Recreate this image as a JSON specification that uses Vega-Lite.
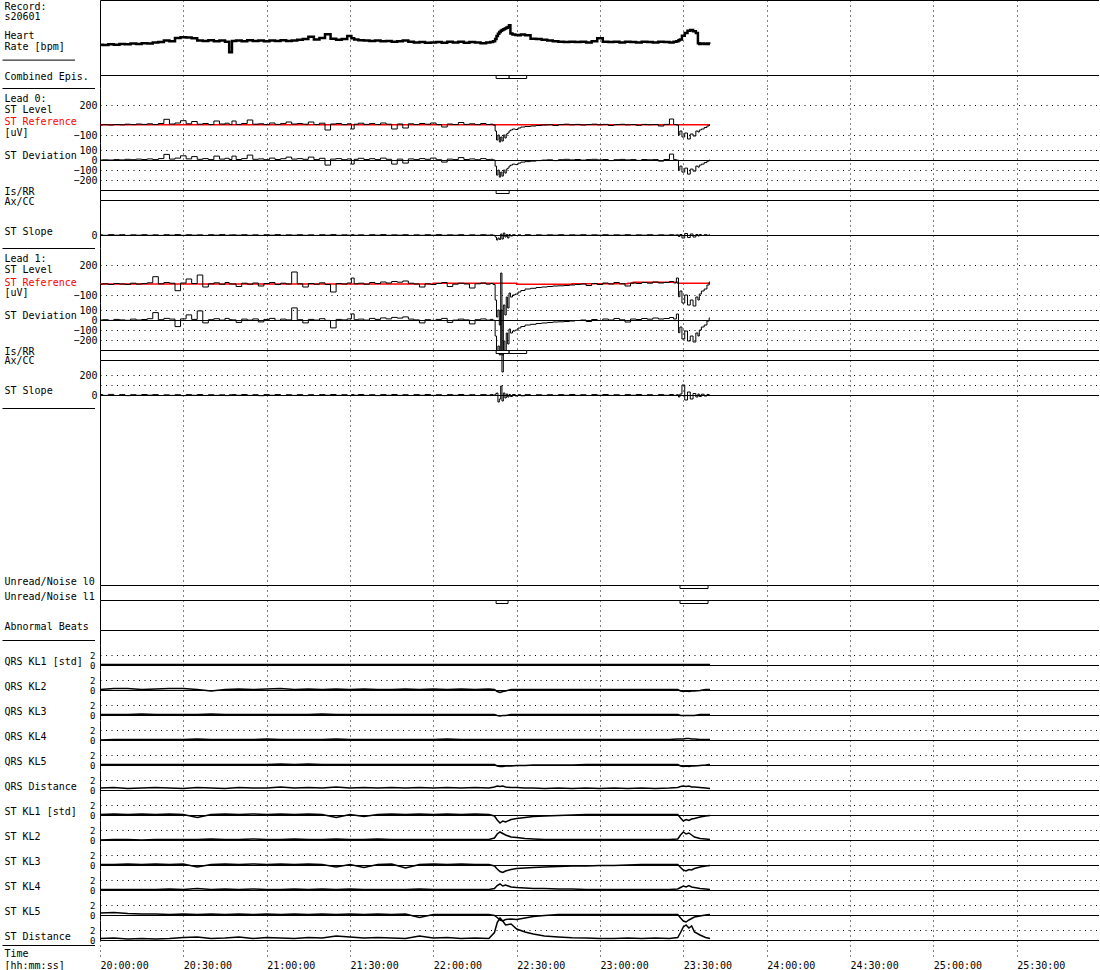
{
"$schema":"https://vega.github.io/schema/vega-lite/v6.json",
"background":"white",
"padding":{"left":2,"top":0,"right":0,"bottom":0},
"spacing":0,
"bounds":"flush",
"datasets":{
"m":[
{"t":0,"hr":81,"a":0,"b":0,"c":2,"d":8,"e":0,"f":5},
{"t":2,"hr":80,"a":3,"b":2,"c":-3,"d":12,"e":3,"f":-4},
{"t":4,"hr":82,"a":0,"b":0,"c":4,"d":5,"e":-4,"f":6},
{"t":6,"hr":81,"a":5,"b":4,"c":-2,"d":15,"e":6,"f":-5},
{"t":8,"hr":83,"a":2,"b":1,"c":3,"d":10,"e":1,"f":4},
{"t":10,"hr":82,"a":8,"b":7,"c":-4,"d":6,"e":-3,"f":-6},
{"t":12,"hr":84,"a":4,"b":3,"c":2,"d":18,"e":9,"f":3},
{"t":14,"hr":83,"a":10,"b":9,"c":-2,"d":9,"e":0,"f":-3},
{"t":16,"hr":85,"a":6,"b":5,"c":3,"d":14,"e":5,"f":5},
{"t":18,"hr":84,"a":12,"b":11,"c":-3,"d":22,"e":13,"f":-2},
{"t":20,"hr":87,"a":5,"b":4,"c":2,"d":83,"e":74,"f":4},
{"t":22,"hr":88,"a":15,"b":14,"c":-4,"d":12,"e":3,"f":-5},
{"t":24,"hr":92,"a":57,"b":56,"c":3,"d":25,"e":16,"f":2},
{"t":26,"hr":90,"a":10,"b":9,"c":-2,"d":18,"e":9,"f":-4},
{"t":28,"hr":99,"a":20,"b":19,"c":4,"d":-57,"e":-66,"f":3},
{"t":30,"hr":101,"a":43,"b":42,"c":-3,"d":20,"e":11,"f":-6},
{"t":32,"hr":100,"a":12,"b":11,"c":3,"d":60,"e":51,"f":4},
{"t":34,"hr":98,"a":35,"b":34,"c":-2,"d":15,"e":6,"f":-3},
{"t":36,"hr":92,"a":8,"b":7,"c":2,"d":100,"e":91,"f":5},
{"t":38,"hr":91,"a":15,"b":14,"c":-4,"d":-20,"e":-29,"f":-5},
{"t":40,"hr":93,"a":5,"b":4,"c":3,"d":12,"e":3,"f":3},
{"t":42,"hr":90,"a":40,"b":39,"c":-2,"d":22,"e":13,"f":-4},
{"t":44,"hr":92,"a":10,"b":9,"c":4,"d":8,"e":-1,"f":2},
{"t":46,"hr":89,"a":18,"b":17,"c":-3,"d":25,"e":16,"f":-6},
{"t":47,"hr":61,"a":6,"b":5,"c":1,"d":12,"e":3,"f":2},
{"t":48,"hr":91,"a":40,"b":39,"c":2,"d":10,"e":1,"f":4},
{"t":50,"hr":92,"a":6,"b":5,"c":-2,"d":-15,"e":-24,"f":-3},
{"t":52,"hr":90,"a":15,"b":14,"c":3,"d":18,"e":9,"f":5},
{"t":54,"hr":93,"a":50,"b":49,"c":-3,"d":8,"e":-1,"f":-4},
{"t":56,"hr":91,"a":8,"b":7,"c":2,"d":20,"e":11,"f":3},
{"t":58,"hr":92,"a":12,"b":11,"c":-4,"d":-10,"e":-19,"f":-7},
{"t":60,"hr":90,"a":4,"b":3,"c":3,"d":15,"e":6,"f":4},
{"t":62,"hr":92,"a":20,"b":19,"c":-2,"d":25,"e":16,"f":-3},
{"t":64,"hr":91,"a":6,"b":5,"c":4,"d":5,"e":-4,"f":5},
{"t":66,"hr":93,"a":14,"b":13,"c":-3,"d":18,"e":9,"f":-5},
{"t":68,"hr":91,"a":30,"b":29,"c":2,"d":10,"e":1,"f":3},
{"t":70,"hr":92,"a":10,"b":9,"c":-2,"d":130,"e":121,"f":-4},
{"t":72,"hr":94,"a":15,"b":14,"c":3,"d":12,"e":3,"f":4},
{"t":74,"hr":96,"a":8,"b":7,"c":-3,"d":-20,"e":-29,"f":-6},
{"t":76,"hr":102,"a":30,"b":29,"c":2,"d":15,"e":6,"f":3},
{"t":78,"hr":95,"a":5,"b":4,"c":-4,"d":8,"e":-1,"f":-5},
{"t":80,"hr":99,"a":18,"b":17,"c":3,"d":22,"e":13,"f":4},
{"t":82,"hr":109,"a":-50,"b":-51,"c":-2,"d":5,"e":-4,"f":-3},
{"t":84,"hr":97,"a":10,"b":9,"c":4,"d":-70,"e":-79,"f":5},
{"t":86,"hr":94,"a":15,"b":14,"c":-3,"d":15,"e":6,"f":-4},
{"t":88,"hr":96,"a":4,"b":3,"c":2,"d":10,"e":1,"f":3},
{"t":90,"hr":104,"a":12,"b":11,"c":-2,"d":20,"e":11,"f":-5},
{"t":91,"hr":98,"a":-40,"b":-41,"c":3,"d":70,"e":61,"f":4},
{"t":92,"hr":95,"a":8,"b":7,"c":-3,"d":12,"e":3,"f":-3},
{"t":94,"hr":93,"a":18,"b":17,"c":2,"d":18,"e":9,"f":5},
{"t":96,"hr":92,"a":6,"b":5,"c":-4,"d":8,"e":-1,"f":-4},
{"t":98,"hr":91,"a":14,"b":13,"c":3,"d":25,"e":16,"f":3},
{"t":100,"hr":92,"a":5,"b":4,"c":-2,"d":15,"e":6,"f":-6},
{"t":102,"hr":90,"a":20,"b":19,"c":4,"d":30,"e":21,"f":4},
{"t":104,"hr":91,"a":8,"b":7,"c":-3,"d":20,"e":11,"f":-3},
{"t":106,"hr":89,"a":-40,"b":-41,"c":2,"d":35,"e":26,"f":5},
{"t":108,"hr":90,"a":10,"b":9,"c":-2,"d":28,"e":19,"f":-4},
{"t":110,"hr":92,"a":-30,"b":-31,"c":3,"d":40,"e":31,"f":3},
{"t":112,"hr":89,"a":12,"b":11,"c":-4,"d":18,"e":9,"f":-5},
{"t":114,"hr":87,"a":5,"b":4,"c":2,"d":10,"e":1,"f":4},
{"t":116,"hr":88,"a":15,"b":14,"c":-3,"d":-20,"e":-29,"f":-3},
{"t":118,"hr":86,"a":8,"b":7,"c":3,"d":12,"e":3,"f":5},
{"t":120,"hr":87,"a":20,"b":19,"c":-2,"d":5,"e":-4,"f":-4},
{"t":122,"hr":88,"a":4,"b":3,"c":4,"d":15,"e":6,"f":3},
{"t":124,"hr":86,"a":-20,"b":-21,"c":-3,"d":25,"e":16,"f":-6},
{"t":126,"hr":89,"a":10,"b":9,"c":2,"d":-15,"e":-24,"f":4},
{"t":128,"hr":87,"a":5,"b":4,"c":-2,"d":8,"e":-1,"f":-3},
{"t":130,"hr":89,"a":25,"b":24,"c":3,"d":18,"e":9,"f":5},
{"t":132,"hr":86,"a":6,"b":5,"c":-4,"d":10,"e":1,"f":-4},
{"t":134,"hr":88,"a":12,"b":11,"c":2,"d":-30,"e":-39,"f":3},
{"t":136,"hr":87,"a":4,"b":3,"c":-3,"d":12,"e":3,"f":-5},
{"t":138,"hr":85,"a":15,"b":14,"c":3,"d":20,"e":11,"f":4},
{"t":140,"hr":87,"a":5,"b":4,"c":-2,"d":8,"e":-1,"f":-3},
{"t":141,"hr":88,"a":8,"b":7,"c":2,"d":15,"e":6,"f":4},
{"t":142,"hr":90,"a":0,"b":0,"c":-3,"d":5,"e":-4,"f":-2},
{"t":142.5,"hr":96,"a":-60,"b":-61,"c":-20,"d":-150,"e":-160,"f":10},
{"t":143,"hr":104,"a":-150,"b":-151,"c":-50,"d":-320,"e":-330,"f":20},
{"t":143.5,"hr":110,"a":-100,"b":-101,"c":-30,"d":-250,"e":-260,"f":-70},
{"t":144,"hr":115,"a":-170,"b":-171,"c":-45,"d":-400,"e":-350,"f":-40},
{"t":144.5,"hr":118,"a":-120,"b":-121,"c":10,"d":120,"e":100,"f":90},
{"t":144.9,"hr":120,"a":-160,"b":-161,"c":-40,"d":-870,"e":-350,"f":-60},
{"t":145.5,"hr":122,"a":-100,"b":-101,"c":20,"d":-200,"e":-210,"f":20},
{"t":146,"hr":124,"a":-130,"b":-131,"c":-20,"d":-300,"e":-310,"f":-30},
{"t":146.5,"hr":126,"a":-90,"b":-91,"c":5,"d":-120,"e":-130,"f":10},
{"t":147,"hr":128,"a":-80,"b":-81,"c":-30,"d":-230,"e":-240,"f":-20},
{"t":147.5,"hr":133,"a":-60,"b":-61,"c":5,"d":-80,"e":-90,"f":5},
{"t":148,"hr":111,"a":-50,"b":-51,"c":-10,"d":-120,"e":-130,"f":-15},
{"t":149,"hr":108,"a":-40,"b":-41,"c":3,"d":-100,"e":-110,"f":5},
{"t":150,"hr":107,"a":-45,"b":-46,"c":-5,"d":-90,"e":-100,"f":-10},
{"t":151,"hr":106,"a":-30,"b":-31,"c":2,"d":-70,"e":-80,"f":3},
{"t":152,"hr":108,"a":-20,"b":-21,"c":-6,"d":-55,"e":-65,"f":-8},
{"t":154,"hr":106,"a":-15,"b":-16,"c":3,"d":-40,"e":-50,"f":4},
{"t":156,"hr":97,"a":-10,"b":-11,"c":-4,"d":-33,"e":-43,"f":-5},
{"t":158,"hr":96,"a":-5,"b":-6,"c":2,"d":-25,"e":-35,"f":3},
{"t":160,"hr":94,"a":0,"b":-1,"c":-3,"d":-20,"e":-30,"f":-4},
{"t":162,"hr":92,"a":3,"b":2,"c":2,"d":-15,"e":-25,"f":3},
{"t":164,"hr":90,"a":-5,"b":-6,"c":-2,"d":-10,"e":-20,"f":-4},
{"t":166,"hr":89,"a":4,"b":3,"c":3,"d":-8,"e":-18,"f":4},
{"t":168,"hr":88,"a":8,"b":7,"c":-3,"d":-5,"e":-15,"f":-3},
{"t":170,"hr":89,"a":2,"b":1,"c":2,"d":0,"e":-10,"f":5},
{"t":172,"hr":88,"a":6,"b":5,"c":-2,"d":5,"e":-5,"f":-4},
{"t":174,"hr":89,"a":0,"b":-1,"c":3,"d":10,"e":0,"f":3},
{"t":176,"hr":87,"a":5,"b":4,"c":-3,"d":-5,"e":-15,"f":-5},
{"t":178,"hr":90,"a":8,"b":7,"c":2,"d":15,"e":5,"f":4},
{"t":180,"hr":98,"a":2,"b":1,"c":-2,"d":5,"e":-5,"f":-3},
{"t":182,"hr":89,"a":6,"b":5,"c":3,"d":20,"e":10,"f":5},
{"t":184,"hr":88,"a":-5,"b":-6,"c":-3,"d":10,"e":0,"f":-4},
{"t":186,"hr":89,"a":4,"b":3,"c":2,"d":25,"e":15,"f":3},
{"t":188,"hr":87,"a":7,"b":6,"c":-2,"d":12,"e":2,"f":-5},
{"t":190,"hr":89,"a":2,"b":1,"c":3,"d":-10,"e":-20,"f":4},
{"t":192,"hr":88,"a":5,"b":4,"c":-3,"d":20,"e":10,"f":-3},
{"t":194,"hr":87,"a":-3,"b":-4,"c":2,"d":15,"e":5,"f":5},
{"t":196,"hr":89,"a":6,"b":5,"c":-2,"d":25,"e":15,"f":-4},
{"t":198,"hr":88,"a":3,"b":2,"c":3,"d":18,"e":8,"f":3},
{"t":200,"hr":87,"a":5,"b":4,"c":-3,"d":30,"e":20,"f":-5},
{"t":202,"hr":89,"a":-10,"b":-11,"c":2,"d":20,"e":10,"f":4},
{"t":204,"hr":88,"a":6,"b":5,"c":-2,"d":25,"e":15,"f":-3},
{"t":206,"hr":87,"a":60,"b":59,"c":3,"d":35,"e":25,"f":5},
{"t":207,"hr":89,"a":5,"b":4,"c":-2,"d":20,"e":10,"f":-4},
{"t":208,"hr":90,"a":0,"b":-1,"c":2,"d":70,"e":60,"f":3},
{"t":208.5,"hr":93,"a":-100,"b":-101,"c":-15,"d":-117,"e":-127,"f":-20},
{"t":209,"hr":95,"a":-60,"b":-61,"c":5,"d":-60,"e":-70,"f":10},
{"t":210,"hr":105,"a":-120,"b":-121,"c":-30,"d":-180,"e":-190,"f":100},
{"t":211,"hr":112,"a":-80,"b":-81,"c":15,"d":-100,"e":-110,"f":-50},
{"t":212,"hr":118,"a":-140,"b":-141,"c":-25,"d":-200,"e":-210,"f":30},
{"t":213,"hr":120,"a":-90,"b":-91,"c":10,"d":-150,"e":-160,"f":-40},
{"t":214,"hr":117,"a":-110,"b":-111,"c":-20,"d":-210,"e":-220,"f":15},
{"t":215,"hr":112,"a":-60,"b":-61,"c":5,"d":-120,"e":-130,"f":-20},
{"t":215.5,"hr":85,"a":-70,"b":-71,"c":-10,"d":-150,"e":-160,"f":10},
{"t":216,"hr":83,"a":-50,"b":-51,"c":5,"d":-90,"e":-100,"f":-15},
{"t":217,"hr":84,"a":-40,"b":-41,"c":-5,"d":-60,"e":-70,"f":8},
{"t":218,"hr":83,"a":-25,"b":-26,"c":3,"d":-40,"e":-50,"f":-10},
{"t":219,"hr":84,"a":-10,"b":-11,"c":-3,"d":0,"e":-10,"f":5},
{"t":219.6,"hr":83,"a":0,"b":-1,"c":2,"d":30,"e":20,"f":-3}
],
"r":[
{"lead":0,"t":0,"v":2},{"lead":0,"t":219.6,"v":2},
{"lead":1,"t":0,"v":10},{"lead":1,"t":120,"v":17},{"lead":1,"t":150,"v":7},{"lead":1,"t":170,"v":12},{"lead":1,"t":190,"v":17},{"lead":1,"t":192,"v":27},{"lead":1,"t":208,"v":17},{"lead":1,"t":219.6,"v":17}
],
"ep":[
{"p":"comb","s":142.6,"e":147.3},{"p":"comb","s":147.3,"e":153.6},
{"p":"is0","s":142.6,"e":147.3},
{"p":"is1","s":142.6,"e":147.3},{"p":"is1","s":147.3,"e":153.6},
{"p":"un0","s":208.8,"e":218.9},
{"p":"un1","s":142.6,"e":146.9},{"p":"un1","s":208.8,"e":218.9}
],
"k":[
{"t":0,"q1":0.1,"q2":0.1,"q3":0.1,"q4":0,"q5":0.1,"qd":0.4,"s1":0.1,"s2":0,"s3":0.1,"s4":0.1,"s5":0.4,"sd":0.3},
{"t":5,"q1":0.1,"q2":0.3,"q3":0.1,"q4":0.1,"q5":0.1,"qd":0.5,"s1":0.2,"s2":0.1,"s3":0.1,"s4":0.1,"s5":0.5,"sd":0.4},
{"t":10,"q1":0.1,"q2":0.3,"q3":0.1,"q4":0.1,"q5":0.1,"qd":0.3,"s1":0.1,"s2":0.1,"s3":0.2,"s4":0.1,"s5":0.3,"sd":0.2},
{"t":15,"q1":0.1,"q2":0.1,"q3":0.2,"q4":0.1,"q5":0.1,"qd":0.4,"s1":0.2,"s2":0,"s3":0.1,"s4":0.1,"s5":0.2,"sd":0.3},
{"t":20,"q1":0.1,"q2":0.2,"q3":0.1,"q4":0.1,"q5":0.1,"qd":0.5,"s1":0.1,"s2":0.1,"s3":0.2,"s4":0.1,"s5":0.2,"sd":0.2},
{"t":25,"q1":0.1,"q2":0.3,"q3":0.1,"q4":0.1,"q5":0.1,"qd":0.4,"s1":0.2,"s2":0.1,"s3":0.1,"s4":0.2,"s5":0.1,"sd":0.3},
{"t":30,"q1":0.1,"q2":0.3,"q3":0.1,"q4":0.1,"q5":0.1,"qd":0.3,"s1":0.1,"s2":0.1,"s3":0.2,"s4":0.1,"s5":0.2,"sd":0.5},
{"t":35,"q1":0.1,"q2":0.1,"q3":0.1,"q4":0.2,"q5":0.1,"qd":0.5,"s1":-0.5,"s2":0.1,"s3":-0.4,"s4":0.3,"s5":0.1,"sd":0.6},
{"t":40,"q1":0.1,"q2":-0.2,"q3":0.2,"q4":0.1,"q5":0.1,"qd":0.4,"s1":0.1,"s2":0.2,"s3":0.1,"s4":0.1,"s5":0.2,"sd":0.3},
{"t":45,"q1":0.1,"q2":0.1,"q3":0.1,"q4":0.1,"q5":0.1,"qd":0.3,"s1":0.2,"s2":0.1,"s3":0.2,"s4":0.2,"s5":0.1,"sd":0.4},
{"t":50,"q1":0.1,"q2":0.2,"q3":0.1,"q4":0.1,"q5":0.1,"qd":0.5,"s1":0.1,"s2":0.1,"s3":0.1,"s4":0.1,"s5":0.2,"sd":0.6},
{"t":55,"q1":0.1,"q2":0.1,"q3":0.1,"q4":0.1,"q5":0.1,"qd":0.4,"s1":0.2,"s2":0.2,"s3":0.2,"s4":0.2,"s5":0.1,"sd":0.3},
{"t":60,"q1":0.1,"q2":0.2,"q3":0.1,"q4":0.2,"q5":0.1,"qd":0.4,"s1":0.1,"s2":0.1,"s3":0.1,"s4":0.1,"s5":0.2,"sd":0.5},
{"t":65,"q1":0.1,"q2":0.3,"q3":0.1,"q4":0.1,"q5":0.2,"qd":0.6,"s1":0.2,"s2":0.1,"s3":0.2,"s4":0.1,"s5":0.1,"sd":0.4},
{"t":70,"q1":0.1,"q2":0.1,"q3":0.1,"q4":0.1,"q5":0.1,"qd":0.4,"s1":0.1,"s2":0.2,"s3":0.1,"s4":0.2,"s5":0.2,"sd":0.3},
{"t":75,"q1":0.1,"q2":0.2,"q3":0.1,"q4":0.1,"q5":0.2,"qd":0.5,"s1":0.2,"s2":0.1,"s3":0.2,"s4":0.1,"s5":0.1,"sd":0.5},
{"t":80,"q1":0.1,"q2":0.1,"q3":0.2,"q4":0.1,"q5":0.1,"qd":0.4,"s1":0.1,"s2":0.1,"s3":0.1,"s4":0.2,"s5":0.2,"sd":0.4},
{"t":85,"q1":0.1,"q2":0.2,"q3":0.1,"q4":0.2,"q5":0.1,"qd":0.6,"s1":-0.5,"s2":0.2,"s3":-0.4,"s4":0.1,"s5":0.1,"sd":0.8},
{"t":90,"q1":0.1,"q2":0.1,"q3":0.1,"q4":0.1,"q5":0.1,"qd":0.4,"s1":0.1,"s2":0.1,"s3":0.1,"s4":0.2,"s5":0.2,"sd":0.6},
{"t":95,"q1":0.1,"q2":0.2,"q3":0.1,"q4":0.1,"q5":0.1,"qd":0.5,"s1":-0.3,"s2":0.1,"s3":-0.5,"s4":0.1,"s5":0.1,"sd":0.4},
{"t":100,"q1":0.1,"q2":0.1,"q3":0.1,"q4":0.1,"q5":0.1,"qd":0.4,"s1":0.1,"s2":0.2,"s3":0.1,"s4":0.1,"s5":0.2,"sd":0.5},
{"t":105,"q1":0.1,"q2":0.1,"q3":0.1,"q4":0.1,"q5":0.1,"qd":0.5,"s1":0.2,"s2":0.1,"s3":0.2,"s4":0.1,"s5":0.1,"sd":0.4},
{"t":110,"q1":0.1,"q2":0.2,"q3":0.1,"q4":0.1,"q5":0.1,"qd":0.4,"s1":0.1,"s2":0.1,"s3":-0.6,"s4":0.1,"s5":0.2,"sd":0.3},
{"t":115,"q1":0.1,"q2":0.1,"q3":0.1,"q4":0.1,"q5":0.1,"qd":0.5,"s1":0.2,"s2":0.1,"s3":0.1,"s4":0.2,"s5":-0.5,"sd":0.8},
{"t":120,"q1":0.1,"q2":0.2,"q3":0.1,"q4":0.1,"q5":0.1,"qd":0.4,"s1":0.1,"s2":0.1,"s3":0.2,"s4":0.1,"s5":0.1,"sd":0.4},
{"t":125,"q1":0.1,"q2":0.1,"q3":0.1,"q4":0.2,"q5":0.1,"qd":0.5,"s1":0.2,"s2":0.1,"s3":0.1,"s4":0.1,"s5":0.1,"sd":0.5},
{"t":130,"q1":0.1,"q2":0.2,"q3":0.1,"q4":0.1,"q5":0.1,"qd":0.4,"s1":0.1,"s2":0.1,"s3":0.2,"s4":0.1,"s5":0.1,"sd":0.3},
{"t":135,"q1":0.1,"q2":0.1,"q3":0.1,"q4":0.1,"q5":0.1,"qd":0.5,"s1":0.2,"s2":0.1,"s3":0.1,"s4":0.1,"s5":0.1,"sd":0.4},
{"t":140,"q1":0.1,"q2":0.2,"q3":0.1,"q4":0.1,"q5":0.1,"qd":0.4,"s1":0.1,"s2":0.1,"s3":0.1,"s4":0.1,"s5":0.1,"sd":0.3},
{"t":142,"q1":0.1,"q2":0.1,"q3":0.1,"q4":0.1,"q5":0.1,"qd":0.6,"s1":-0.2,"s2":0.4,"s3":-0.2,"s4":0.3,"s5":-0.1,"sd":1.5},
{"t":143,"q1":0.1,"q2":-0.3,"q3":-0.1,"q4":0.1,"q5":-0.2,"qd":0.8,"s1":-1.0,"s2":1.2,"s3":-0.8,"s4":0.9,"s5":-0.5,"sd":3.5},
{"t":144,"q1":0.1,"q2":-0.5,"q3":-0.2,"q4":0.1,"q5":-0.3,"qd":0.7,"s1":-1.6,"s2":1.6,"s3":-1.3,"s4":1.2,"s5":-1.0,"sd":4.4},
{"t":145,"q1":0.1,"q2":-0.3,"q3":-0.1,"q4":0.1,"q5":-0.3,"qd":0.8,"s1":-1.2,"s2":1.3,"s3":-1.5,"s4":0.8,"s5":-1.2,"sd":3.8},
{"t":146,"q1":0.1,"q2":-0.2,"q3":-0.1,"q4":0.1,"q5":-0.2,"qd":0.6,"s1":-1.4,"s2":1.0,"s3":-1.2,"s4":1.0,"s5":-0.9,"sd":3.0},
{"t":148,"q1":0.1,"q2":0.1,"q3":0.1,"q4":0.1,"q5":-0.2,"qd":0.5,"s1":-0.9,"s2":0.6,"s3":-0.9,"s4":0.6,"s5":-0.8,"sd":3.2},
{"t":150,"q1":0.1,"q2":0.1,"q3":0.1,"q4":0.1,"q5":-0.1,"qd":0.5,"s1":-0.7,"s2":0.5,"s3":-0.7,"s4":0.5,"s5":-0.9,"sd":2.2},
{"t":153,"q1":0.1,"q2":0.1,"q3":0.1,"q4":0.1,"q5":-0.1,"qd":0.4,"s1":-0.5,"s2":0.3,"s3":-0.6,"s4":0.4,"s5":-0.6,"sd":1.6},
{"t":156,"q1":0.1,"q2":0.1,"q3":0.1,"q4":0.1,"q5":0,"qd":0.4,"s1":-0.3,"s2":0.2,"s3":-0.5,"s4":0.3,"s5":-0.3,"sd":1.2},
{"t":160,"q1":0.1,"q2":0.1,"q3":0.1,"q4":0.1,"q5":0,"qd":0.3,"s1":-0.2,"s2":0.1,"s3":-0.4,"s4":0.3,"s5":-0.1,"sd":0.8},
{"t":165,"q1":0.1,"q2":0.1,"q3":0.1,"q4":0.1,"q5":0,"qd":0.4,"s1":-0.1,"s2":0.1,"s3":-0.3,"s4":0.2,"s5":0.1,"sd":0.6},
{"t":170,"q1":0.1,"q2":0.1,"q3":0.1,"q4":0.1,"q5":0,"qd":0.3,"s1":0,"s2":0.1,"s3":-0.2,"s4":0.2,"s5":0.1,"sd":0.45},
{"t":175,"q1":0.1,"q2":0.1,"q3":0.1,"q4":0.1,"q5":0.1,"qd":0.4,"s1":0.1,"s2":0.1,"s3":-0.2,"s4":0.1,"s5":0.1,"sd":0.4},
{"t":180,"q1":0.1,"q2":0.1,"q3":0.1,"q4":0.1,"q5":0.1,"qd":0.3,"s1":0.1,"s2":0.1,"s3":-0.1,"s4":0.1,"s5":0.1,"sd":0.3},
{"t":185,"q1":0.1,"q2":0.1,"q3":0.1,"q4":0.1,"q5":0.1,"qd":0.4,"s1":0.1,"s2":0.1,"s3":-0.1,"s4":0.1,"s5":0.1,"sd":0.3},
{"t":190,"q1":0.1,"q2":0.1,"q3":0.1,"q4":0.1,"q5":0.1,"qd":0.3,"s1":0.1,"s2":0.1,"s3":0,"s4":0.1,"s5":0.1,"sd":0.4},
{"t":195,"q1":0.1,"q2":0.1,"q3":0.1,"q4":0.1,"q5":0.1,"qd":0.4,"s1":0.1,"s2":0.1,"s3":0.1,"s4":0.1,"s5":0.1,"sd":0.3},
{"t":200,"q1":0.1,"q2":0.1,"q3":0.1,"q4":0.1,"q5":0.1,"qd":0.3,"s1":0.1,"s2":0.1,"s3":0.1,"s4":0.1,"s5":0.1,"sd":0.4},
{"t":205,"q1":0.1,"q2":0.1,"q3":0.1,"q4":0.1,"q5":0.1,"qd":0.4,"s1":0.1,"s2":0.1,"s3":0.1,"s4":0.1,"s5":0.1,"sd":0.3},
{"t":208,"q1":0.1,"q2":0.1,"q3":0.1,"q4":0.2,"q5":0.1,"qd":0.5,"s1":0.1,"s2":0.2,"s3":0.1,"s4":0.2,"s5":0.1,"sd":0.5},
{"t":209,"q1":0.1,"q2":-0.2,"q3":-0.1,"q4":0.2,"q5":-0.2,"qd":0.7,"s1":-0.6,"s2":1.0,"s3":-0.5,"s4":0.5,"s5":-0.6,"sd":1.5},
{"t":210,"q1":0.1,"q2":-0.3,"q3":-0.1,"q4":0.2,"q5":-0.3,"qd":0.8,"s1":-1.2,"s2":1.6,"s3":-1.0,"s4":0.8,"s5":-1.2,"sd":2.6},
{"t":211,"q1":0.1,"q2":-0.2,"q3":-0.1,"q4":0.3,"q5":-0.2,"qd":0.7,"s1":-0.9,"s2":1.2,"s3":-1.2,"s4":0.6,"s5":-1.4,"sd":3.0},
{"t":212,"q1":0.1,"q2":-0.3,"q3":-0.1,"q4":0.3,"q5":-0.3,"qd":0.8,"s1":-1.1,"s2":1.4,"s3":-0.9,"s4":0.9,"s5":-1.0,"sd":2.4},
{"t":213,"q1":0.1,"q2":-0.2,"q3":-0.1,"q4":0.2,"q5":-0.2,"qd":0.6,"s1":-0.8,"s2":1.0,"s3":-1.0,"s4":0.6,"s5":-0.7,"sd":2.8},
{"t":214,"q1":0.1,"q2":-0.2,"q3":-0.1,"q4":0.2,"q5":-0.2,"qd":0.6,"s1":-0.7,"s2":0.6,"s3":-0.7,"s4":0.5,"s5":-0.4,"sd":1.6},
{"t":216,"q1":0.1,"q2":-0.1,"q3":0.1,"q4":0.1,"q5":-0.1,"qd":0.5,"s1":-0.4,"s2":0.3,"s3":-0.4,"s4":0.3,"s5":-0.2,"sd":1.0},
{"t":218,"q1":0.1,"q2":0.1,"q3":0.1,"q4":0.1,"q5":0,"qd":0.4,"s1":-0.2,"s2":0.2,"s3":-0.2,"s4":0.2,"s5":0,"sd":0.5},
{"t":219.6,"q1":0.1,"q2":0.1,"q3":0.1,"q4":0.1,"q5":0.1,"qd":0.3,"s1":-0.1,"s2":0.1,"s3":-0.1,"s4":0.1,"s5":0.1,"sd":0.3}
]
},
"vconcat":[
{"width":999,"height":75,
 "layer":[
  {"data":{"name":"m"},"mark":{"type":"line","strokeWidth":2.5,"interpolate":"step"},
   "encoding":{"x":{"field":"t","type":"quantitative","scale":{"domain":[0,359.64]},"axis":{"values":[0,30,60,90,120,150,180,210,240,270,300,330,359.64],"title":["Record:","s20601"],"titleY":-69,"titleLineHeight":10.7}},
    "y":{"field":"hr","type":"quantitative","scale":{"domain":[0,200]},"axis":{"values":[0,40,80,120,160,200],"labelExpr":"datum.value==0||datum.value==200?'':datum.label","labelFontSize":{"condition":{"test":"datum.value==0||datum.value==200","value":0},"value":10},"title":["Heart","Rate [bpm]"],"titleY":35.7,"titleLineHeight":11,"gridDash":{"condition":{"test":"datum.value==0||datum.value==200","value":[]},"value":[1,4.5]}}}}},
  {"data":{"values":[{}]},"mark":"rule",
   "encoding":{"x":{"datum":-35.1,"type":"quantitative","scale":{"domain":[0,359.64]}},"x2":{"datum":-9},"y":{"datum":39.7,"type":"quantitative","scale":{"domain":[0,200]}}}}
 ]},
{"width":999,"height":13,
 "layer":[
  {"data":{"name":"ep"},"transform":[{"filter":"datum.p=='comb'"}],"mark":{"type":"rect","fill":"white","stroke":"black","strokeWidth":1},
   "encoding":{"x":{"field":"s","type":"quantitative","scale":{"domain":[0,359.64]},"axis":{"values":[0,30,60,90,120,150,180,210,240,270,300,330,359.64],"title":null}},"x2":{"field":"e"},
    "y":{"datum":12.5,"type":"quantitative","scale":{"domain":[0,13]},"axis":{"values":[13],"labels":false,"title":"Combined Epis.","titleY":1,"gridDash":[]}},"y2":{"datum":9.5}}},
  {"data":{"values":[{}]},"mark":"rule",
   "encoding":{"x":{"datum":-35.1,"type":"quantitative","scale":{"domain":[0,359.64]}},"x2":{"datum":-1.8},"y":{"datum":-0.5,"type":"quantitative","scale":{"domain":[0,13]}}}}
 ]},
{"width":999,"height":55,
 "layer":[
  {"data":{"name":"r"},"transform":[{"filter":"datum.lead==0"}],"mark":{"type":"line","color":"#ff0000","strokeWidth":1.5,"interpolate":"step-after"},
   "encoding":{"x":{"field":"t","type":"quantitative","scale":{"domain":[0,359.64]},"axis":{"values":[0,30,60,90,120,150,180,210,240,270,300,330,359.64],"title":"ST Reference","titleColor":"#ff0000","titleY":-21.3}},
    "y":{"field":"v","type":"quantitative","scale":{"domain":[-180,370]},"axis":{"values":[-100,0,100,200],"title":["Lead 0:","ST Level"],"titleY":10.3,"titleLineHeight":11.6}}}},
  {"data":{"name":"m"},"mark":{"type":"line","interpolate":"step"},
   "encoding":{"x":{"field":"t","type":"quantitative","scale":{"domain":[0,359.64]}},"y":{"field":"a","type":"quantitative","scale":{"domain":[-180,370]}}}}
 ]},
{"width":999,"height":47,"data":{"name":"m"},"mark":{"type":"line","interpolate":"step"},
 "encoding":{"x":{"field":"t","type":"quantitative","scale":{"domain":[0,359.64]},"axis":{"values":[0,30,60,90,120,150,180,210,240,270,300,330,359.64],"title":"[uV]","titleY":-57.7}},
  "y":{"field":"b","type":"quantitative","scale":{"domain":[-300,170]},"axis":{"values":[-200,-100,0,100],"title":"ST Deviation","titleY":12.7}}}},
{"width":999,"height":10,"data":{"name":"ep"},"transform":[{"filter":"datum.p=='is0'"}],"mark":{"type":"rect","fill":"white","stroke":"black","strokeWidth":1},
 "encoding":{"x":{"field":"s","type":"quantitative","scale":{"domain":[0,359.64]},"axis":{"values":[0,30,60,90,120,150,180,210,240,270,300,330,359.64],"title":null}},"x2":{"field":"e"},
  "y":{"datum":9.5,"type":"quantitative","scale":{"domain":[0,10]},"axis":{"values":[10],"labels":false,"title":"Is/RR","titleY":1.7,"gridDash":[]}},"y2":{"datum":6.5}}},
{"width":999,"height":48,
 "layer":[
  {"data":{"name":"m"},"mark":{"type":"line","interpolate":"step"},
   "encoding":{"x":{"field":"t","type":"quantitative","scale":{"domain":[0,359.64]},"axis":{"values":[0,30,60,90,120,150,180,210,240,270,300,330,359.64],"title":"Ax/CC","titleY":-47}},
    "y":{"field":"c","type":"quantitative","scale":{"domain":[-130,350]},"axis":{"values":[0,100,200,350],"labelExpr":"datum.value==350?'':datum.label","title":"ST Slope","titleY":31,"gridDash":{"condition":{"test":"datum.value==0||datum.value==350","value":[]},"value":[1,4.5]}}}}},
  {"data":{"values":[{}]},"mark":"rule",
   "encoding":{"x":{"datum":-35.1,"type":"quantitative","scale":{"domain":[0,359.64]}},"x2":{"datum":-1.8},"y":{"datum":-135,"type":"quantitative","scale":{"domain":[-130,350]}}}}
 ]},
{"width":999,"height":55,
 "layer":[
  {"data":{"name":"r"},"transform":[{"filter":"datum.lead==1"}],"mark":{"type":"line","color":"#ff0000","strokeWidth":1.5,"interpolate":"step-after"},
   "encoding":{"x":{"field":"t","type":"quantitative","scale":{"domain":[0,359.64]},"axis":{"values":[0,30,60,90,120,150,180,210,240,270,300,330,359.64],"title":"ST Reference","titleColor":"#ff0000","titleY":-20.7}},
    "y":{"field":"v","type":"quantitative","scale":{"domain":[-180,370]},"axis":{"values":[-100,0,100,200],"title":["Lead 1:","ST Level"],"titleY":10.3,"titleLineHeight":11.6}}}},
  {"data":{"name":"m"},"mark":{"type":"line","interpolate":"step"},
   "encoding":{"x":{"field":"t","type":"quantitative","scale":{"domain":[0,359.64]}},"y":{"field":"d","type":"quantitative","scale":{"domain":[-180,370]}}}}
 ]},
{"width":999,"height":47,"data":{"name":"m"},"mark":{"type":"line","interpolate":"step"},
 "encoding":{"x":{"field":"t","type":"quantitative","scale":{"domain":[0,359.64]},"axis":{"values":[0,30,60,90,120,150,180,210,240,270,300,330,359.64],"title":"[uV]","titleY":-57.3}},
  "y":{"field":"e","type":"quantitative","scale":{"domain":[-300,170]},"axis":{"values":[-200,-100,0,100],"title":"ST Deviation","titleY":12.7}}}},
{"width":999,"height":10,"data":{"name":"ep"},"transform":[{"filter":"datum.p=='is1'"}],"mark":{"type":"rect","fill":"white","stroke":"black","strokeWidth":1},
 "encoding":{"x":{"field":"s","type":"quantitative","scale":{"domain":[0,359.64]},"axis":{"values":[0,30,60,90,120,150,180,210,240,270,300,330,359.64],"title":null}},"x2":{"field":"e"},
  "y":{"datum":9.5,"type":"quantitative","scale":{"domain":[0,10]},"axis":{"values":[10],"labels":false,"title":"Is/RR","titleY":1.7,"gridDash":[]}},"y2":{"datum":6.5}}},
{"width":999,"height":225,
 "layer":[
  {"data":{"name":"m"},"mark":{"type":"line","interpolate":"step"},
   "encoding":{"x":{"field":"t","type":"quantitative","scale":{"domain":[0,359.64]},"axis":{"values":[0,30,60,90,120,150,180,210,240,270,300,330,359.64],"title":"Ax/CC","titleY":-224.4}},
    "y":{"field":"f","type":"quantitative","scale":{"domain":[-1900,350]},"axis":{"values":[0,100,200,350],"labelExpr":"datum.value==350?'':datum.label","title":"ST Slope","titleY":30.7,"gridDash":{"condition":{"test":"datum.value==0||datum.value==350","value":[]},"value":[1,4.5]}}}}},
  {"data":{"values":[{}]},"mark":"rule",
   "encoding":{"x":{"datum":-35.1,"type":"quantitative","scale":{"domain":[0,359.64]}},"x2":{"datum":-1.8},"y":{"datum":-135,"type":"quantitative","scale":{"domain":[-1900,350]}}}}
 ]},
{"width":999,"height":15,"data":{"name":"ep"},"transform":[{"filter":"datum.p=='un0'"}],"mark":{"type":"rect","fill":"white","stroke":"black","strokeWidth":1},
 "encoding":{"x":{"field":"s","type":"quantitative","scale":{"domain":[0,359.64]},"axis":{"values":[0,30,60,90,120,150,180,210,240,270,300,330,359.64],"title":null}},"x2":{"field":"e"},
  "y":{"datum":14.5,"type":"quantitative","scale":{"domain":[0,15]},"axis":{"values":[15],"labels":false,"title":"Unread/Noise l0","titleY":-4,"gridDash":[]}},"y2":{"datum":11.5}}},
{"width":999,"height":30,"data":{"name":"ep"},"transform":[{"filter":"datum.p=='un1'"}],"mark":{"type":"rect","fill":"white","stroke":"black","strokeWidth":1},
 "encoding":{"x":{"field":"s","type":"quantitative","scale":{"domain":[0,359.64]},"axis":{"values":[0,30,60,90,120,150,180,210,240,270,300,330,359.64],"title":null}},"x2":{"field":"e"},
  "y":{"datum":29.5,"type":"quantitative","scale":{"domain":[0,30]},"axis":{"values":[30],"labels":false,"title":"Unread/Noise l1","titleY":-4,"gridDash":[]}},"y2":{"datum":26.5}}},
{"width":999,"height":15,"data":{"values":[{}]},"mark":"rule",
 "encoding":{"x":{"datum":-35.1,"type":"quantitative","scale":{"domain":[0,359.64]},"axis":{"values":[0,30,60,90,120,150,180,210,240,270,300,330,359.64],"title":null}},"x2":{"datum":-1.8},
  "y":{"datum":4.5,"type":"quantitative","scale":{"domain":[0,15]},"axis":{"values":[15],"labels":false,"title":"Abnormal Beats","titleY":-4,"gridDash":[]}}}},
{"width":999,"height":25,"data":{"name":"k"},"mark":{"type":"line","strokeWidth":1.5},"encoding":{"x":{"field":"t","type":"quantitative","scale":{"domain":[0,359.64]},"axis":{"values":[0,30,60,90,120,150,180,210,240,270,300,330,359.64],"title":null}},"y":{"field":"q1","type":"quantitative","scale":{"domain":[-1,4]},"axis":{"values":[0,2],"title":"QRS KL1 [std]","titleY":16,"labelFontSize":9,"labelPadding":5}}}},
{"width":999,"height":25,"data":{"name":"k"},"mark":{"type":"line","strokeWidth":1.5},"encoding":{"x":{"field":"t","type":"quantitative","scale":{"domain":[0,359.64]},"axis":{"values":[0,30,60,90,120,150,180,210,240,270,300,330,359.64],"title":null}},"y":{"field":"q2","type":"quantitative","scale":{"domain":[-1,4]},"axis":{"values":[0,2],"title":"QRS KL2","titleY":16,"labelFontSize":9,"labelPadding":5}}}},
{"width":999,"height":25,"data":{"name":"k"},"mark":{"type":"line","strokeWidth":1.5},"encoding":{"x":{"field":"t","type":"quantitative","scale":{"domain":[0,359.64]},"axis":{"values":[0,30,60,90,120,150,180,210,240,270,300,330,359.64],"title":null}},"y":{"field":"q3","type":"quantitative","scale":{"domain":[-1,4]},"axis":{"values":[0,2],"title":"QRS KL3","titleY":16,"labelFontSize":9,"labelPadding":5}}}},
{"width":999,"height":25,"data":{"name":"k"},"mark":{"type":"line","strokeWidth":1.5},"encoding":{"x":{"field":"t","type":"quantitative","scale":{"domain":[0,359.64]},"axis":{"values":[0,30,60,90,120,150,180,210,240,270,300,330,359.64],"title":null}},"y":{"field":"q4","type":"quantitative","scale":{"domain":[-1,4]},"axis":{"values":[0,2],"title":"QRS KL4","titleY":16,"labelFontSize":9,"labelPadding":5}}}},
{"width":999,"height":25,"data":{"name":"k"},"mark":{"type":"line","strokeWidth":1.5},"encoding":{"x":{"field":"t","type":"quantitative","scale":{"domain":[0,359.64]},"axis":{"values":[0,30,60,90,120,150,180,210,240,270,300,330,359.64],"title":null}},"y":{"field":"q5","type":"quantitative","scale":{"domain":[-1,4]},"axis":{"values":[0,2],"title":"QRS KL5","titleY":16,"labelFontSize":9,"labelPadding":5}}}},
{"width":999,"height":25,"data":{"name":"k"},"mark":{"type":"line","strokeWidth":1.5},"encoding":{"x":{"field":"t","type":"quantitative","scale":{"domain":[0,359.64]},"axis":{"values":[0,30,60,90,120,150,180,210,240,270,300,330,359.64],"title":null}},"y":{"field":"qd","type":"quantitative","scale":{"domain":[-1,4]},"axis":{"values":[0,2],"title":"QRS Distance","titleY":16,"labelFontSize":9,"labelPadding":5}}}},
{"width":999,"height":25,"data":{"name":"k"},"mark":{"type":"line","strokeWidth":1.5},"encoding":{"x":{"field":"t","type":"quantitative","scale":{"domain":[0,359.64]},"axis":{"values":[0,30,60,90,120,150,180,210,240,270,300,330,359.64],"title":null}},"y":{"field":"s1","type":"quantitative","scale":{"domain":[-1,4]},"axis":{"values":[0,2],"title":"ST KL1 [std]","titleY":16,"labelFontSize":9,"labelPadding":5}}}},
{"width":999,"height":25,"data":{"name":"k"},"mark":{"type":"line","strokeWidth":1.5},"encoding":{"x":{"field":"t","type":"quantitative","scale":{"domain":[0,359.64]},"axis":{"values":[0,30,60,90,120,150,180,210,240,270,300,330,359.64],"title":null}},"y":{"field":"s2","type":"quantitative","scale":{"domain":[-1,4]},"axis":{"values":[0,2],"title":"ST KL2","titleY":16,"labelFontSize":9,"labelPadding":5}}}},
{"width":999,"height":25,"data":{"name":"k"},"mark":{"type":"line","strokeWidth":1.5},"encoding":{"x":{"field":"t","type":"quantitative","scale":{"domain":[0,359.64]},"axis":{"values":[0,30,60,90,120,150,180,210,240,270,300,330,359.64],"title":null}},"y":{"field":"s3","type":"quantitative","scale":{"domain":[-1,4]},"axis":{"values":[0,2],"title":"ST KL3","titleY":16,"labelFontSize":9,"labelPadding":5}}}},
{"width":999,"height":25,"data":{"name":"k"},"mark":{"type":"line","strokeWidth":1.5},"encoding":{"x":{"field":"t","type":"quantitative","scale":{"domain":[0,359.64]},"axis":{"values":[0,30,60,90,120,150,180,210,240,270,300,330,359.64],"title":null}},"y":{"field":"s4","type":"quantitative","scale":{"domain":[-1,4]},"axis":{"values":[0,2],"title":"ST KL4","titleY":16,"labelFontSize":9,"labelPadding":5}}}},
{"width":999,"height":25,"data":{"name":"k"},"mark":{"type":"line","strokeWidth":1.5},"encoding":{"x":{"field":"t","type":"quantitative","scale":{"domain":[0,359.64]},"axis":{"values":[0,30,60,90,120,150,180,210,240,270,300,330,359.64],"title":null}},"y":{"field":"s5","type":"quantitative","scale":{"domain":[-1,4]},"axis":{"values":[0,2],"title":"ST KL5","titleY":16,"labelFontSize":9,"labelPadding":5}}}},
{"width":999,"height":20,
 "layer":[
  {"data":{"name":"k"},"mark":{"type":"line","strokeWidth":1.5},
   "encoding":{"x":{"field":"t","type":"quantitative","scale":{"domain":[0,359.64]},"axis":{"values":[0,30,60,90,120,150,180,210,240,270,300,330,359.64],"labels":true,"ticks":true,"tickSize":16,"tickDash":[1,4],"tickColor":"black","tickOpacity":{"condition":{"test":"datum.value>340","value":0},"value":1},"labelAlign":"left","labelPadding":4,"labelExpr":"datum.value>340?'':(floor(datum.value/60)+20)+':'+(datum.value%60==0?'00':'30')+':00'","title":["Time","[hh:mm:ss]"],"titleY":13.5,"titleLineHeight":11.5}},
    "y":{"field":"sd","type":"quantitative","scale":{"domain":[0,4]},"axis":{"values":[0,2],"title":"ST Distance","titleY":16,"labelFontSize":9,"labelPadding":5}}}},
  {"data":{"values":[{}]},"mark":"rule",
   "encoding":{"x":{"datum":-35.1,"type":"quantitative","scale":{"domain":[0,359.64]}},"x2":{"datum":-1.8},"y":{"datum":-1.1,"type":"quantitative","scale":{"domain":[0,4]}}}}
 ]}
],
"config":{
 "font":"DejaVu Sans Mono",
 "view":{"stroke":null},
 "mark":{"color":"black"},
 "line":{"color":"black","strokeWidth":1},
 "rule":{"color":"black","strokeWidth":1},
 "axis":{"labelFont":"DejaVu Sans Mono","labelFontSize":10,"labelColor":"black","titleFont":"DejaVu Sans Mono","titleFontSize":10,"titleFontWeight":"normal","titleColor":"black","gridColor":"black","gridOpacity":1,"gridWidth":1},
 "axisX":{"labels":false,"ticks":false,"domain":false,"grid":true,"titleAngle":0,"titleAlign":"left","titleBaseline":"middle","titleX":-96,"titleLineHeight":10.7,"gridDash":{"condition":{"test":"datum.value<1||datum.value>359","value":[]},"value":[1,4]}},
 "axisY":{"ticks":false,"domain":false,"grid":true,"labelPadding":3,"titleAngle":0,"titleAlign":"left","titleBaseline":"middle","titleX":-96,"titleLineHeight":11.5,"gridDash":{"condition":{"test":"datum.value==0","value":[]},"value":[1,4.5]}}
}
}
